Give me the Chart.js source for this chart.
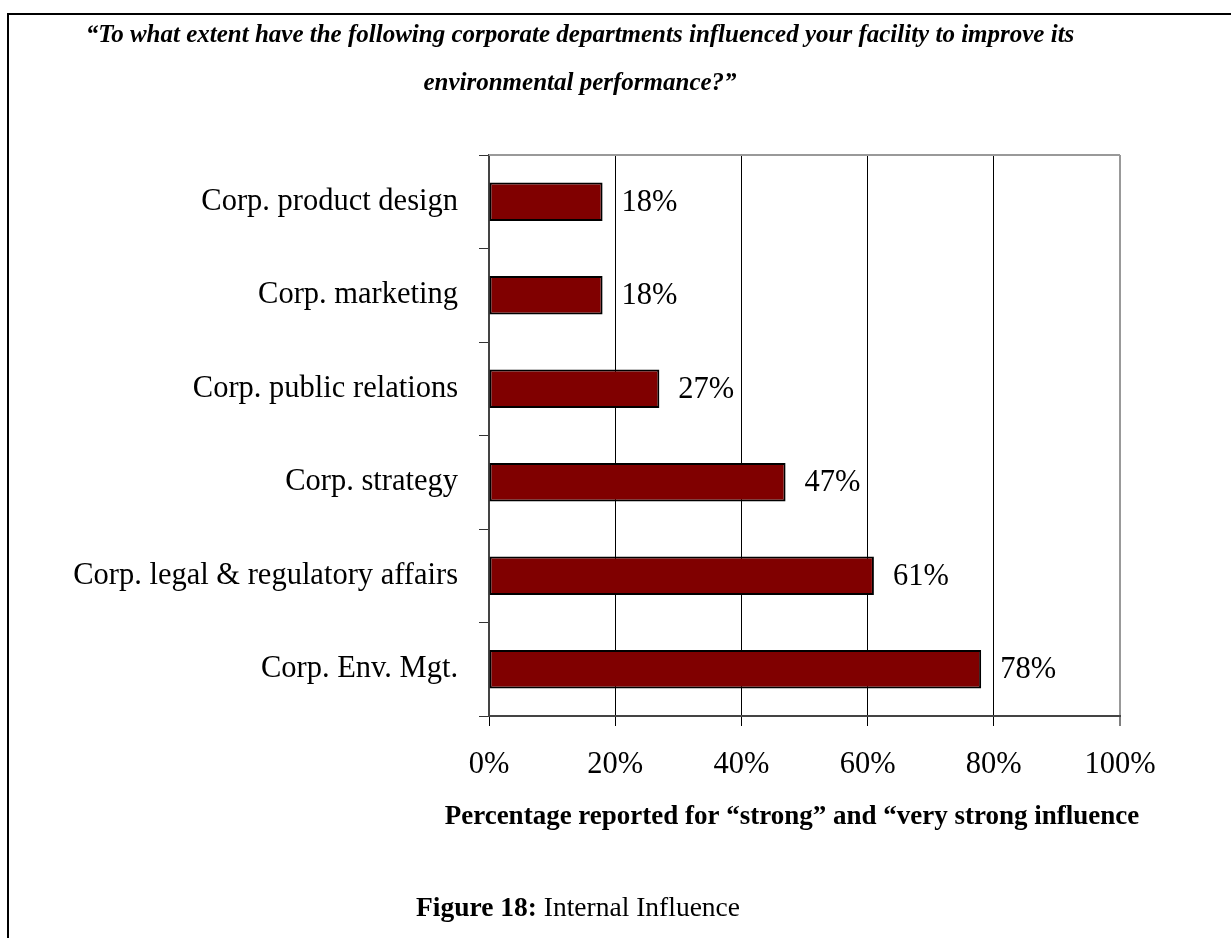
<!DOCTYPE html>
<html>
<head>
<meta charset="utf-8">
<title>Internal Influence</title>
<script src="https://cdn.jsdelivr.net/npm/chart.js@4.4.1/dist/chart.umd.min.js"></script>
<style>
  html, body { margin: 0; padding: 0; background: #fff; }
  #wrap { position: relative; width: 1231px; height: 938px; }
</style>
</head>
<body>
<div id="wrap"><canvas id="influence-chart"></canvas></div>
<script>
// Survey data
const departments = [
  "Corp. product design",
  "Corp. marketing",
  "Corp. public relations",
  "Corp. strategy",
  "Corp. legal & regulatory affairs",
  "Corp. Env. Mgt.",
];
const influencePct = [18, 18, 27, 47, 61, 78];
const pctTicks = [0, 20, 40, 60, 80, 100];

// Texts
const questionLines = [
  "\u201CTo what extent have the following corporate departments influenced your facility to improve its",
  "environmental performance?\u201D",
];
const axisTitle = "Percentage reported for \u201Cstrong\u201D and \u201Cvery strong influence";
const captionBold = "Figure 18:";
const captionRest = " Internal Influence";

const SERIF = '"Liberation Serif", "Times New Roman", serif';

// Page frame, question, axis title and figure caption
const pageText = {
  id: "pageText",
  afterDraw(chart) {
    const ctx = chart.ctx;
    ctx.save();
    ctx.strokeStyle = "#000";
    ctx.lineWidth = 2;
    ctx.beginPath();
    ctx.moveTo(8, 938);
    ctx.lineTo(8, 14);
    ctx.lineTo(1231, 14);
    ctx.stroke();

    ctx.fillStyle = "#000";
    ctx.textAlign = "center";
    ctx.textBaseline = "alphabetic";
    ctx.font = `italic bold 25px ${SERIF}`;
    questionLines.forEach((line, i) => ctx.fillText(line, 580, 42 + i * 48));

    // axis title is wider than the plot, so it is laid out here
    ctx.textBaseline = "middle";
    ctx.font = `bold 27px ${SERIF}`;
    ctx.fillText(axisTitle, 792, 817);

    // caption: bold label followed by regular text
    ctx.textAlign = "left";
    ctx.textBaseline = "alphabetic";
    ctx.font = `bold 27.5px ${SERIF}`;
    const wBold = ctx.measureText(captionBold).width;
    ctx.font = `27.5px ${SERIF}`;
    const wRest = ctx.measureText(captionRest).width;
    const startX = 578 - (wBold + wRest) / 2;
    ctx.font = `bold 27.5px ${SERIF}`;
    ctx.fillText(captionBold, startX, 916);
    ctx.font = `27.5px ${SERIF}`;
    ctx.fillText(captionRest, startX + wBold, 916);
    ctx.restore();
  },
};

// Grey top edge of the plot area
const plotTop = {
  id: "plotTop",
  beforeDatasetsDraw(chart) {
    const { ctx, chartArea } = chart;
    ctx.save();
    ctx.strokeStyle = "#999";
    ctx.lineWidth = 2;
    ctx.beginPath();
    ctx.moveTo(chartArea.left, chartArea.top);
    ctx.lineTo(chartArea.right, chartArea.top);
    ctx.stroke();
    ctx.restore();
  },
};

// Percentage next to each bar
const barLabels = {
  id: "barLabels",
  afterDatasetsDraw(chart) {
    const ctx = chart.ctx;
    const meta = chart.getDatasetMeta(0);
    ctx.save();
    ctx.fillStyle = "#000";
    ctx.font = `30.5px ${SERIF}`;
    ctx.textAlign = "left";
    ctx.textBaseline = "middle";
    meta.data.forEach((bar, i) => {
      ctx.fillText(`${influencePct[i]}%`, bar.x + 19, bar.y + 1);
    });
    ctx.restore();
  },
};

const chart = new Chart(document.getElementById("influence-chart"), {
  type: "bar",
  data: {
    labels: departments,
    datasets: [
      {
        data: influencePct,
        backgroundColor: "#800000",
        borderColor: "#000",
        borderWidth: 2,
        borderSkipped: false,
        barPercentage: 0.41,
        categoryPercentage: 1,
      },
    ],
  },
  options: {
    indexAxis: "y",
    responsive: true,
    maintainAspectRatio: false,
    animation: false,
    layout: { padding: { left: 0, right: 111, top: 155, bottom: 0 } },
    plugins: {
      legend: { display: false },
      tooltip: { enabled: false },
    },
    scales: {
      x: {
        min: 0,
        max: 100,
        afterBuildTicks: (scale) => {
          scale.ticks = pctTicks.map((v) => ({ value: v }));
        },
        afterFit: (scale) => {
          scale.height = 222;
        },
        ticks: {
          color: "#000",
          font: { family: SERIF, size: 30.5 },
          padding: 21,
          callback: (v) => `${v}%`,
        },
        grid: {
          color: (c) => (c.tick && c.tick.value === 100 ? "#999" : "#000"),
          lineWidth: (c) => (c.tick && c.tick.value === 100 ? 2 : 1),
          tickColor: "#000",
          tickWidth: 1,
          tickLength: 10,
        },
        border: { color: "#444", width: 2 },
      },
      y: {
        afterFit: (scale) => {
          scale.width = 489;
        },
        ticks: {
          color: "#000",
          font: { family: SERIF, size: 30.5 },
          padding: 21,
        },
        grid: {
          drawOnChartArea: false,
          offset: true,
          tickLength: 10,
          tickColor: "#333",
        },
        border: { color: "#444", width: 2 },
      },
    },
  },
  plugins: [pageText, plotTop, barLabels],
});
</script>
</body>
</html>
